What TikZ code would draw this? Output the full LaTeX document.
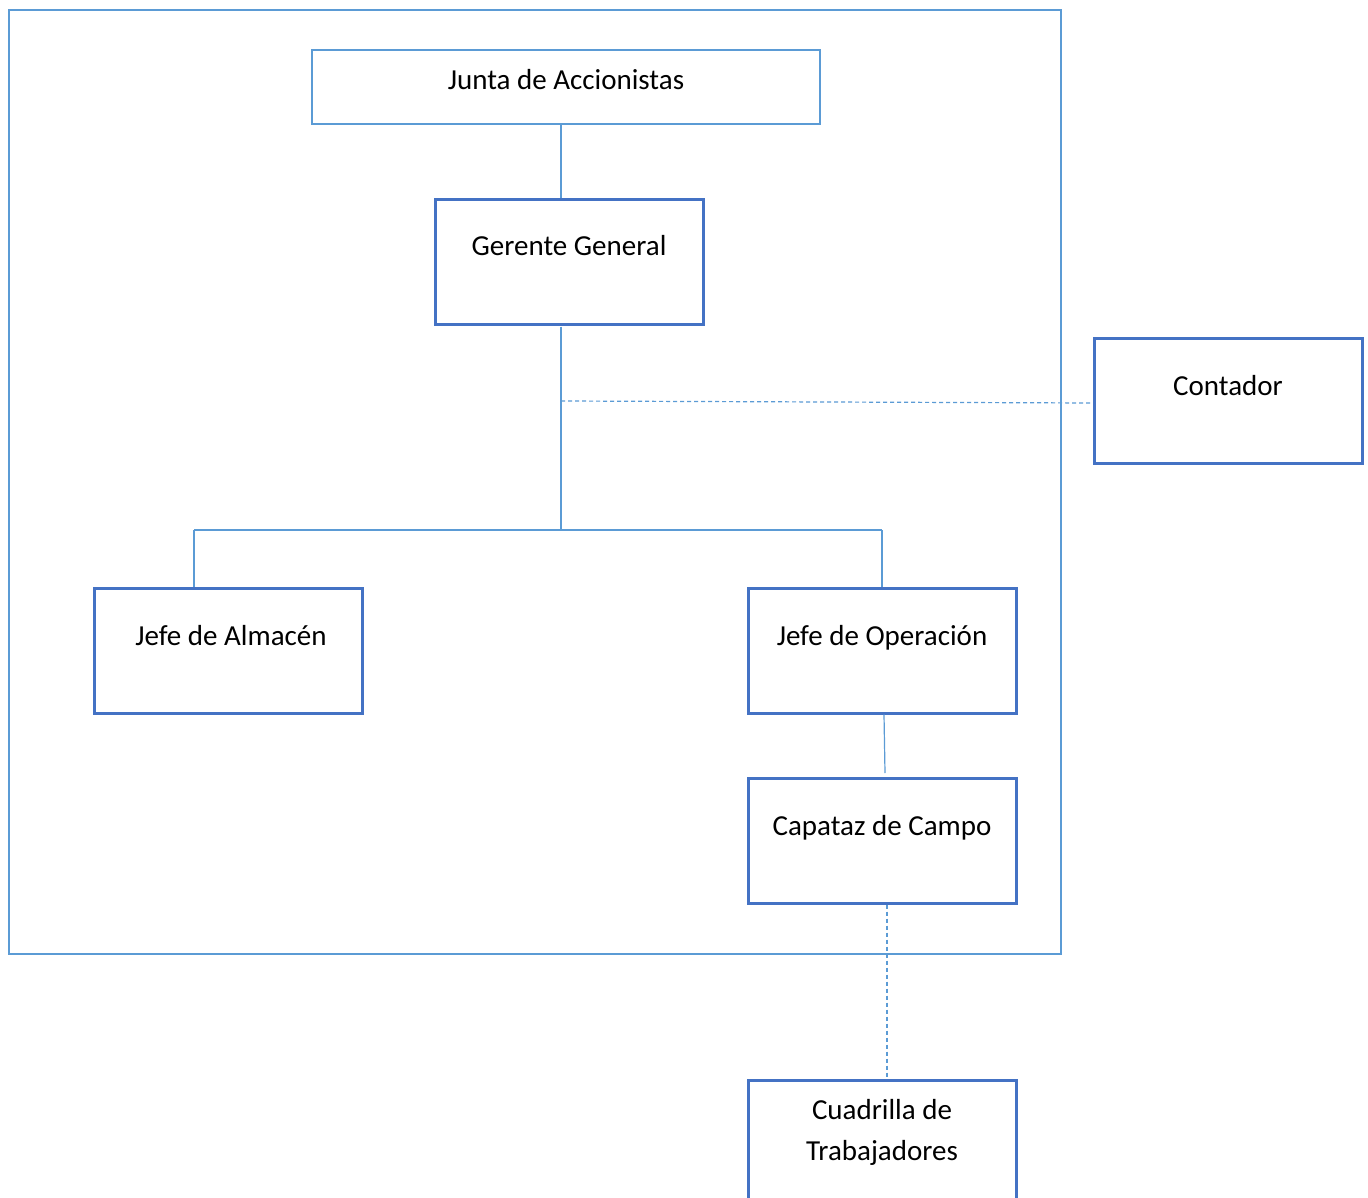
\documentclass[tikz,border=0pt]{standalone}
\usepackage{fontspec}
\setmainfont{Carlito}
\usetikzlibrary{calc}
\definecolor{lblue}{HTML}{5B9BD5}
\definecolor{dblue}{HTML}{4472C4}
\tikzset{
  orgbox/.style={draw=dblue, line width=3pt, minimum width=268pt, minimum height=125pt, inner sep=0pt, fill=white},
  topbox/.style={draw=lblue, line width=2.8pt, minimum width=508pt, minimum height=74pt, inner sep=0pt, fill=white},
  frame/.style={draw=lblue, line width=2.6pt},
  lbl/.style={anchor=base, inner sep=0pt, font=\fontsize{29}{41}\selectfont, align=center},
  conn/.style={draw=lblue, line width=1.2pt},
  dconn/.style={draw=lblue, line width=1.2pt, dash pattern=on 4pt off 3pt}
}
\begin{document}
\begin{tikzpicture}[x=1pt,y=-1pt]
\useasboundingbox (0,0) rectangle (1368,1198);
\clip (0,0) rectangle (1368,1198);
\fill[white] (0,0) rectangle (1368,1198);
% outer frame
\draw[frame] (9,10) rectangle (1061,954);
% coordinates for connectors
\coordinate (cx) at (561,0);
\coordinate (hub) at (561,530);
\coordinate (dst) at (561,401);
\coordinate (hl) at (194,530);
\coordinate (hr) at (882,530);
% boxes
\node[topbox] (junta) at (566,87) {};
\node[orgbox] (gerente) at (569.5,262.5) {};
\node[orgbox] (contador) at (1228,400.5) {};
\node[orgbox] (almacen) at (228,650.5) {};
\node[orgbox] (operacion) at (882,650.5) {};
\node[orgbox] (capataz) at (882,840.5) {};
\node[orgbox] (cuadrilla) at (882,1142.5) {};
% connectors
\draw[conn] (junta.south -| cx) -- (gerente.north -| cx);
\draw[conn] (gerente.south -| cx) -- (hub);
\draw[conn] (hl) -- (hr);
\draw[conn] (hl) -- (almacen.north -| hl);
\draw[conn] (hr) -- (operacion.north -| hr);
\draw[dconn] (dst) -- (contador.west |- 0,403);
\coordinate (cap1) at (885,773);
\draw[conn] ($(operacion.south)+(2,0)$) -- (cap1);
\draw[dconn] ($(capataz.south)+(5,0)$) -- ($(cuadrilla.north)+(5,-2)$);
% labels
\node[lbl] (tjunta) at (566,90) {Junta de Accionistas};
\node[lbl] (tgerente) at (569,256) {Gerente General};
\node[lbl] (tcontador) at (1228,395) {Contador};
\node[lbl] (talmacen) at (231,645) {Jefe de Almacén};
\node[lbl] (toperacion) at (882,645) {Jefe de Operación};
\node[lbl] (tcapataz) at (882,835) {Capataz de Campo};
\node[lbl] (tcuadrilla) at (882,1160) {Cuadrilla de\\Trabajadores};
\end{tikzpicture}
\end{document}
